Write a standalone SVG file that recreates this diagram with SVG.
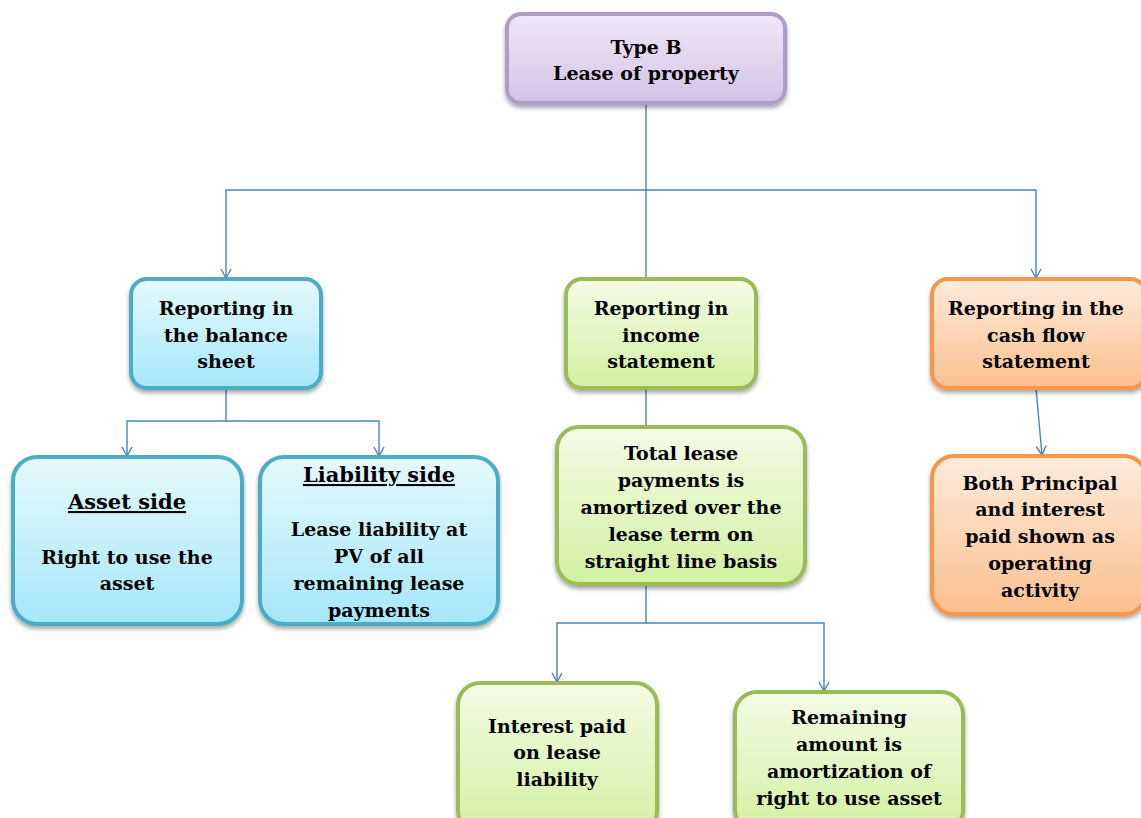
<svg xmlns="http://www.w3.org/2000/svg" width="1141" height="818" viewBox="0 0 1141 818">
  <defs>
    <linearGradient id="gPurple" x1="0" y1="0" x2="0" y2="1">
      <stop offset="0" stop-color="#efe8f7"/>
      <stop offset="1" stop-color="#d3c3e8"/>
    </linearGradient>
    <linearGradient id="gCyan" x1="0" y1="0" x2="0" y2="1">
      <stop offset="0" stop-color="#e6f9fe"/>
      <stop offset="1" stop-color="#a5e7f9"/>
    </linearGradient>
    <linearGradient id="gGreen" x1="0" y1="0" x2="0" y2="1">
      <stop offset="0" stop-color="#f4fbe6"/>
      <stop offset="1" stop-color="#d3f0a2"/>
    </linearGradient>
    <linearGradient id="gOrange" x1="0" y1="0" x2="0" y2="1">
      <stop offset="0" stop-color="#fdebdc"/>
      <stop offset="1" stop-color="#fbc08f"/>
    </linearGradient>
    <filter id="shadow" x="-10%" y="-10%" width="120%" height="130%">
      <feDropShadow dx="0" dy="3" stdDeviation="2" flood-color="#000" flood-opacity="0.35"/>
    </filter>
    <marker id="arrow" viewBox="0 0 12 12" refX="10" refY="6" markerWidth="12" markerHeight="12" markerUnits="userSpaceOnUse" orient="auto">
      <path d="M1,1 L10,6 L1,11" fill="none" stroke="#4f81bd" stroke-width="1.4"/>
    </marker>
  </defs>
  <style>
    .box { stroke-width: 4; filter: url(#shadow); }
    .purple { fill: url(#gPurple); stroke: #b09cc9; }
    .cyan { fill: url(#gCyan); stroke: #4bacc6; }
    .green { fill: url(#gGreen); stroke: #9bbb59; }
    .orange { fill: url(#gOrange); stroke: #f79646; }
    text { font-family: "DejaVu Serif", "Liberation Serif", serif; font-weight: bold; font-size: 19px; fill: #000; text-anchor: middle; }
    .head { font-size: 21px; text-decoration: underline; }
    .conn { fill: none; stroke: #4f81bd; stroke-width: 1.4; }
  </style>

  <rect width="1141" height="818" fill="#ffffff"/>

  <!-- connectors -->
  <g id="connectors">
    <path class="conn" d="M646,103 V278"/>
    <path class="conn" d="M646,190 H226 V278" marker-end="url(#arrow)"/>
    <path class="conn" d="M646,190 H1036 V278" marker-end="url(#arrow)"/>
    <path class="conn" d="M226,388 V421 H127 V456" marker-end="url(#arrow)"/>
    <path class="conn" d="M226,421 H379 V456" marker-end="url(#arrow)"/>
    <path class="conn" d="M646,388 V427"/>
    <path class="conn" d="M646,584 V623 H557 V682" marker-end="url(#arrow)"/>
    <path class="conn" d="M646,623 H824 V691" marker-end="url(#arrow)"/>
    <path class="conn" d="M1036,388 L1042,455" marker-end="url(#arrow)"/>
  </g>

  <!-- root -->
  <g id="type-b">
    <rect class="box purple" x="507" y="14" width="278" height="89" rx="14"/>
    <text x="646" y="54">Type B</text>
    <text x="646" y="80">Lease of property</text>
  </g>

  <!-- balance sheet branch -->
  <g id="balance-sheet">
    <rect class="box cyan" x="131" y="279" width="190" height="109" rx="16"/>
    <text x="226" y="315">Reporting in</text>
    <text x="226" y="342">the balance</text>
    <text x="226" y="368">sheet</text>
  </g>
  <g id="asset-side">
    <rect class="box cyan" x="13" y="457" width="229" height="167" rx="24"/>
    <text class="head" x="127" y="509">Asset side</text>
    <text x="127" y="564">Right to use the</text>
    <text x="127" y="590">asset</text>
  </g>
  <g id="liability-side">
    <rect class="box cyan" x="260" y="457" width="238" height="167" rx="24"/>
    <text class="head" x="379" y="482">Liability side</text>
    <text x="379" y="536">Lease liability at</text>
    <text x="379" y="563">PV of  all</text>
    <text x="379" y="590">remaining lease</text>
    <text x="379" y="617">payments</text>
  </g>

  <!-- income statement branch -->
  <g id="income-statement">
    <rect class="box green" x="566" y="279" width="190" height="109" rx="16"/>
    <text x="661" y="315">Reporting in</text>
    <text x="661" y="342">income</text>
    <text x="661" y="368">statement</text>
  </g>
  <g id="total-lease">
    <rect class="box green" x="557" y="427" width="248" height="157" rx="22"/>
    <text x="681" y="460">Total lease</text>
    <text x="681" y="487">payments is</text>
    <text x="681" y="514">amortized over the</text>
    <text x="681" y="541">lease term on</text>
    <text x="681" y="568">straight line basis</text>
  </g>
  <g id="interest-paid">
    <rect class="box green" x="458" y="683" width="199" height="150" rx="22"/>
    <text x="557" y="733">Interest paid</text>
    <text x="557" y="759">on lease</text>
    <text x="557" y="786">liability</text>
  </g>
  <g id="remaining-amount">
    <rect class="box green" x="735" y="692" width="228" height="140" rx="22"/>
    <text x="849" y="724">Remaining</text>
    <text x="849" y="751">amount is</text>
    <text x="849" y="778">amortization of</text>
    <text x="849" y="805">right to use asset</text>
  </g>

  <!-- cash flow branch -->
  <g id="cash-flow">
    <rect class="box orange" x="932" y="279" width="214" height="109" rx="16"/>
    <text x="1036" y="315">Reporting in the</text>
    <text x="1036" y="342">cash flow</text>
    <text x="1036" y="368">statement</text>
  </g>
  <g id="operating-activity">
    <rect class="box orange" x="932" y="456" width="214" height="158" rx="22"/>
    <text x="1040" y="490">Both Principal</text>
    <text x="1040" y="516">and interest</text>
    <text x="1040" y="543">paid shown as</text>
    <text x="1040" y="570">operating</text>
    <text x="1040" y="597">activity</text>
  </g>
</svg>
